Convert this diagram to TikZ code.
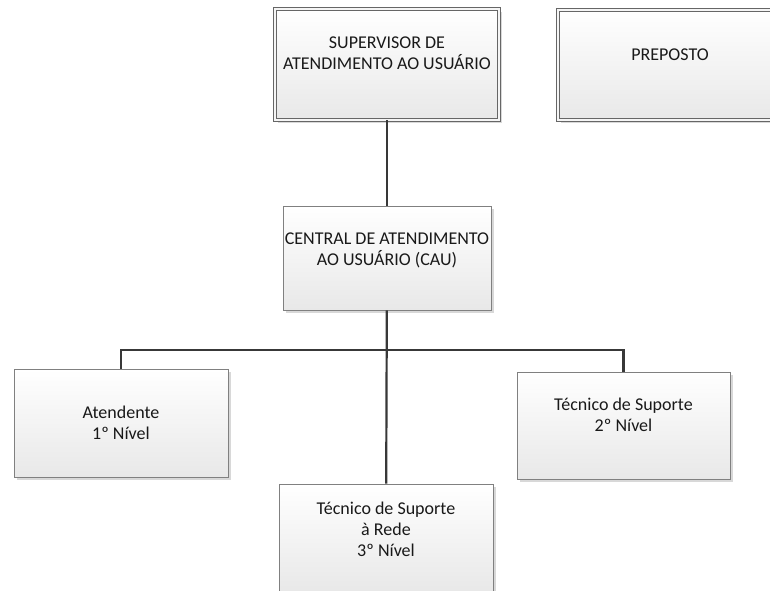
\documentclass[tikz,border=0pt]{standalone}
\usepackage{fontspec}
\setmainfont{Carlito}
\usetikzlibrary{shadows}

\tikzset{
    caixa/.style={draw=black!50, line width=0.8pt, inner sep=0pt, top color=white, bottom color=black!9,
        drop shadow={shadow xshift=2.5pt, shadow yshift=-2.5pt, fill=black!30, opacity=0.5}},
    caixadupla/.style={caixa, draw=black!60, double=black!4, double distance=2.6pt},
    texto/.style={align=center, inner sep=0pt, font=\fontsize{18}{21}\selectfont, text=black!90},
    liga/.style={draw=black!78, line width=2.2pt}
}

\begin{document}
\begin{tikzpicture}[x=1pt, y=-1pt]
\useasboundingbox (0,0) rectangle (770,590);
\clip (0,0) rectangle (770,590);

% top level: double framed boxes
\node[caixadupla, minimum width=224, minimum height=111] (sup) at (387,64.5) {};
\node[caixadupla, minimum width=224, minimum height=110] (prep) at (670,65) {};

% middle and lower level boxes
\node[caixa, minimum width=208, minimum height=104] (cau) at (387,258) {};
\node[caixa, minimum width=214, minimum height=108] (at1) at (121,423) {};
\node[caixa, minimum width=213, minimum height=107] (tec2) at (623.5,425.5) {};
\node[caixa, minimum width=214, minimum height=108] (tec3) at (386,538) {};

% texts, a little above the box centres
\node[texto] (sup-t) at ([yshift=11pt]sup.center) {SUPERVISOR DE\\ATENDIMENTO AO USUÁRIO};
\node[texto] (prep-t) at ([yshift=10pt]prep.center) {PREPOSTO};
\node[texto] (cau-t) at ([yshift=8pt]cau.center) {CENTRAL DE ATENDIMENTO\\AO USUÁRIO (CAU)};
\node[texto] (at1-t) at (at1.center) {Atendente\\1º Nível};
\node[texto] (tec2-t) at ([yshift=11pt]tec2.center) {Técnico de Suporte\\2º Nível};
\node[texto] (tec3-t) at ([yshift=9pt]tec3.center) {Técnico de Suporte\\à Rede\\3º Nível};

% connectors
\coordinate (barra) at (387,350);
\draw[liga] (sup) -- (cau);
\draw[liga] (cau) -- (tec3);
\foreach \n in {at1,tec2} {
    \draw[liga] (barra) -| (\n.north);
}
\end{tikzpicture}
\end{document}
